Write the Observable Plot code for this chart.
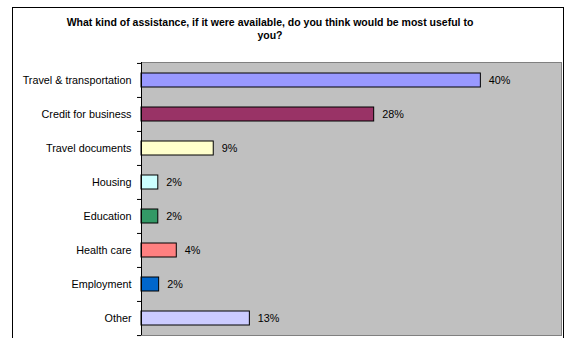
<!DOCTYPE html>
<html><head><meta charset="utf-8">
<script src="https://cdn.jsdelivr.net/npm/d3@7"></script>
<script src="https://cdn.jsdelivr.net/npm/@observablehq/plot@0.6"></script>
<style>
body{margin:0;width:565px;height:338px;overflow:hidden;background:#fff;font-family:"Liberation Sans",Arial,sans-serif;position:relative}
#border{position:absolute;left:12px;top:7px;width:552px;height:400px;border:1px solid #000;box-sizing:border-box}
#title{position:absolute;left:0;top:16px;width:540px;text-align:center;font-weight:bold;font-size:10.5px;line-height:13px;color:#000}
#chart{position:absolute;left:0;top:50px}
</style></head><body>
<div id="border"></div>
<div id="title">What kind of assistance, if it were available, do you think would be most useful to<br>you?</div>
<div id="chart"></div>
<script>
const categories = ["Travel & transportation","Credit for business","Travel documents","Housing","Education","Health care","Employment","Other"];
const values = [40.4, 27.7, 8.6, 2.0, 2.0, 4.2, 2.1, 12.9];
const labels = ["40%","28%","9%","2%","2%","4%","2%","13%"];
const colors = ["#9999FF","#993366","#FFFFCC","#CCFFFF","#339966","#FF8080","#0066CC","#CCCCFF"];
const data = categories.map((c,i)=>({category:c, value:values[i], label:labels[i], color:colors[i]}));
const H = 288, mt = 12, mb = 3;
const half = (H - mt - mb) / categories.length / 2;
const chart = Plot.plot({
  width:565, height:H, marginLeft:141, marginRight:4, marginTop:mt, marginBottom:mb,
  style:{fontFamily:"Liberation Sans, Arial, sans-serif", fontSize:"10.8px", background:"transparent", color:"#000"},
  x:{domain:[0,50], axis:null},
  y:{domain:categories, padding:0, axis:null, label:null},
  color:{type:"identity"},
  marks:[
    Plot.frame({fill:"#c0c0c0", stroke:"#808080"}),
    Plot.barX(data,{x:"value", y:"category", fill:"color", stroke:"#000", strokeWidth:1, insetTop:10, insetBottom:10}),
    Plot.text(data,{x:"value", y:"category", text:"label", textAnchor:"start", dx:8, fill:"#000"}),
    Plot.axisY({tickSize:0, tickPadding:10, fill:"#000", label:null}),
    Plot.axisY({tickSize:4, text:null, dy:-half, stroke:"#000", strokeOpacity:1, label:null}),
    Plot.axisY({ticks:[categories[categories.length-1]], tickSize:4, text:null, dy:half, stroke:"#000", strokeOpacity:1, label:null}),
    Plot.ruleX([0],{stroke:"#000"})
  ]
});
document.getElementById("chart").appendChild(chart);
</script>
</body></html>
